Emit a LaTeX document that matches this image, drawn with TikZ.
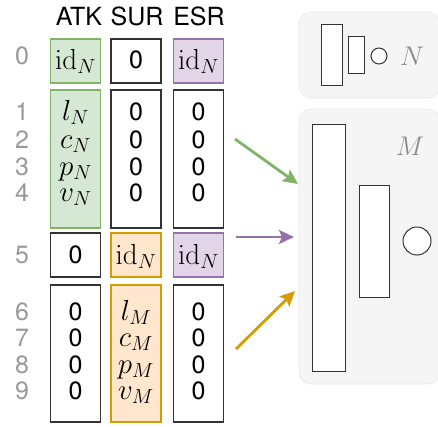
\RequirePackage{fix-cm}
\documentclass[tikz,border=0pt]{standalone}
\usepackage[no-math]{fontspec}
\newfontfamily\hv{TeX Gyre Heros}
\usetikzlibrary{arrows.meta}
\definecolor{lblgray}{HTML}{999999}
\definecolor{boxline}{HTML}{333333}
\definecolor{gfill}{HTML}{D5E8D4}\definecolor{gline}{HTML}{82B366}
\definecolor{pfill}{HTML}{E1D5E7}\definecolor{pline}{HTML}{9673A6}
\definecolor{ofill}{HTML}{FFE6CC}\definecolor{oline}{HTML}{D79B00}
\definecolor{panel}{HTML}{F5F5F5}\definecolor{panelline}{HTML}{E8E8E8}
\definecolor{mlabel}{HTML}{8A8A8A}
\tikzset{
  cellbox/.style={draw=boxline, line width=1.2pt, minimum width=50pt, inner sep=0pt},
  hdr/.style={font=\hv\fontsize{25}{28}\selectfont, anchor=base, inner sep=0pt},
  val/.style={font=\hv\fontsize{25}{28}\selectfont, anchor=base, inner sep=0pt, text height=17pt, text depth=0pt},
  mval/.style={font=\fontsize{29}{32}\selectfont, anchor=base, inner sep=0pt, text height=19pt, text depth=4pt},
  rlbl/.style={font=\hv\fontsize{25}{28}\selectfont, text=lblgray, anchor=base, inner sep=0pt, text height=17pt, text depth=0pt},
  panelbox/.style={fill=panel, draw=panelline, line width=0.6pt, rounded corners=12pt},
  inner/.style={fill=white, draw=boxline, line width=1pt},
  arr/.style={line width=2.8pt, -{Stealth[length=15pt, width=14pt, inset=3pt]}},
}
\begin{document}
\begin{tikzpicture}[x=1pt, y=-1pt]
\useasboundingbox (0,0) rectangle (438,426);
% headers
\node[hdr] (hATK) at (79,25) {ATK};
\node[hdr] (hSUR) at (137,25) {SUR};
\node[hdr] (hESR) at (199,25) {ESR};
% boxes
\node[cellbox, fill=gfill, draw=gline, minimum height=44pt] (a0) at (75.5,61) {};
\node[cellbox, minimum height=44pt] (s0) at (136,61) {};
\node[cellbox, fill=pfill, draw=pline, minimum height=44pt] (e0) at (198.5,61) {};
\node[cellbox, fill=gfill, draw=gline, minimum height=138pt] (a1) at (75.5,159) {};
\node[cellbox, minimum height=138pt] (s1) at (136,159) {};
\node[cellbox, minimum height=138pt] (e1) at (198.5,159) {};
\node[cellbox, minimum height=44pt] (a5) at (75.5,255) {};
\node[cellbox, fill=ofill, draw=oline, minimum height=44pt] (s5) at (136,255) {};
\node[cellbox, fill=pfill, draw=pline, minimum height=44pt] (e5) at (198.5,255) {};
\node[cellbox, minimum height=137pt] (a6) at (75.5,353.5) {};
\node[cellbox, fill=ofill, draw=oline, minimum height=137pt] (s6) at (136,353.5) {};
\node[cellbox, minimum height=137pt] (e6) at (198.5,353.5) {};
% row labels
\node[rlbl] (r0) at (22,64) {0};
\foreach \i/\b in {1/120.5,2/148,3/175,4/201.5}{\node[rlbl] (r\i) at (22,\b) {\i};}
\node[rlbl] (r5) at (22,263) {5};
\foreach \i/\b in {6/320,7/346,8/373,9/399}{\node[rlbl] (r\i) at (22,\b) {\i};}
% row 0
\node[mval] (ta0) at (75.5,69) {$\mathrm{id}_N$};
\node[val] (ts0) at (136,68) {0};
\node[mval] (te0) at (198.5,69) {$\mathrm{id}_N$};
% rows 1-4
\node[mval] (ta1) at (75.5,120.5) {$l_N$};
\node[mval] (ta2) at (75.5,148) {$c_N$};
\node[mval] (ta3) at (75.5,175) {$p_N$};
\node[mval] (ta4) at (75.5,201.5) {$v_N$};
\foreach \i/\b in {1/120.5,2/148,3/175,4/201.5}{
  \node[val] (ts\i) at (136,\b) {0};
  \node[val] (te\i) at (198.5,\b) {0};}
% row 5
\node[val] (ta5) at (75.5,263) {0};
\node[mval] (ts5) at (136,264) {$\mathrm{id}_N$};
\node[mval] (te5) at (198.5,264) {$\mathrm{id}_N$};
% rows 6-9
\node[mval] (ts6) at (136,320) {$l_M$};
\node[mval] (ts7) at (136,346) {$c_M$};
\node[mval] (ts8) at (136,373) {$p_M$};
\node[mval] (ts9) at (136,399) {$v_M$};
\foreach \i/\b in {6/320,7/346,8/373,9/399}{
  \node[val] (ta\i) at (75.5,\b) {0};
  \node[val] (te\i) at (198.5,\b) {0};}
% right panels
\path[panelbox] (299,12) rectangle (440,98);
\path[panelbox] (299,109) rectangle (440,384);
\node[inner, minimum width=21pt, minimum height=61pt, inner sep=0pt] (n1) at (331.5,54.5) {};
\node[inner, minimum width=16pt, minimum height=37pt, inner sep=0pt] (n2) at (356,54.5) {};
\node[inner, circle, minimum size=16pt, inner sep=0pt] (n3) at (379,56) {};
\node[font=\fontsize{27}{30}\selectfont, text=mlabel] (nlab) at (412,56) {$N$};
\node[inner, minimum width=33pt, minimum height=247pt, inner sep=0pt] (m1) at (328.5,247.5) {};
\node[inner, minimum width=30pt, minimum height=112pt, inner sep=0pt] (m2) at (374,241) {};
\node[inner, circle, minimum size=28pt, inner sep=0pt] (m3) at (417,241) {};
\node[font=\fontsize{27}{30}\selectfont, text=mlabel] (mlab) at (410,146) {$M$};
% arrows
\coordinate (g0) at (235,139); \coordinate (g1) at (298,184);
\coordinate (p0) at (236,237); \coordinate (p1) at (294,237);
\coordinate (o0) at (236,349); \coordinate (o1) at (295,291);
\draw[arr, draw=gline, fill=gline] (g0) -- (g1);
\draw[arr, draw=pline, fill=pline] (p0) -- (p1);
\draw[arr, draw=oline, fill=oline] (o0) -- (o1);
\end{tikzpicture}
\end{document}
